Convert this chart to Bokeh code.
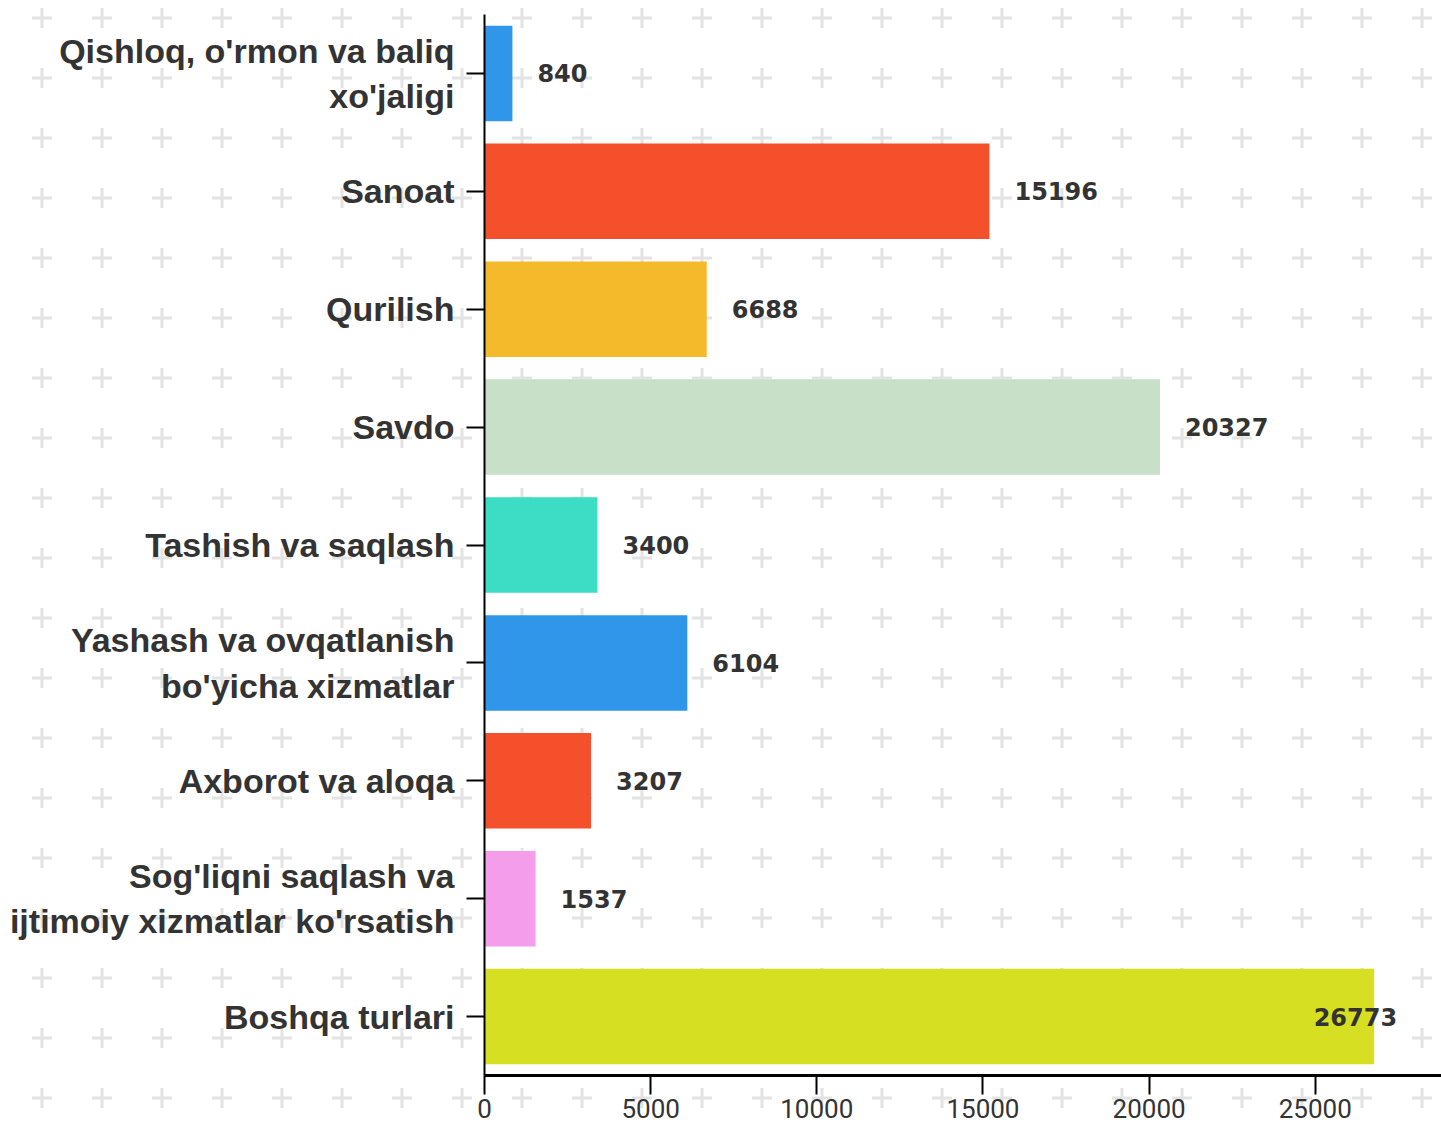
import urllib.parse
from bokeh.plotting import figure
from bokeh.models import ColumnDataSource, FactorRange, Range1d, FixedTicker
from bokeh.core.properties import value
from bokeh.embed import file_html
from bokeh.resources import INLINE

categories = [
    "Qishloq, o'rmon va baliq\nxo'jaligi",
    "Sanoat",
    "Qurilish",
    "Savdo",
    "Tashish va saqlash",
    "Yashash va ovqatlanish\nbo'yicha xizmatlar",
    "Axborot va aloqa",
    "Sog'liqni saqlash va\nijtimoiy xizmatlar ko'rsatish",
    "Boshqa turlari",
]
values = [840, 15196, 6688, 20327, 3400, 6104, 3207, 1537, 26773]
colors = ["#3096ea", "#f5502c", "#f5b92c", "#c8dfc8", "#3ddcc4",
          "#3096ea", "#f5502c", "#f49deb", "#d6df22"]
x_ticks = [0, 5000, 10000, 15000, 20000, 25000]
x_max = 28800

W, H = 1441, 1123
LEFT, TOP, BOTTOM = 484, 14, 48
frame_w = W - LEFT
px_per_unit = frame_w / x_max

# label placement: outside bar end, or pulled inside if it would overflow
label_w = 85
offsets, aligns = [], []
for v in values:
    end_px = v * px_per_unit
    if end_px + 25 + label_w > frame_w:
        offsets.append(23)
        aligns.append("right")
    else:
        offsets.append(25)
        aligns.append("left")

src = ColumnDataSource(dict(cat=categories, val=values, color=colors,
                            lab=[str(v) for v in values],
                            off=offsets, align=aligns))

p = figure(width=W, height=H, output_backend="svg", toolbar_location=None,
           y_range=FactorRange(*reversed(categories), range_padding=0),
           x_range=Range1d(0, x_max),
           min_border_left=LEFT, min_border_right=0,
           min_border_top=TOP, min_border_bottom=BOTTOM)

p.hbar(y="cat", right="val", left=0, height=0.81, color="color",
       line_color=None, source=src)
p.text(x="val", y="cat", text="lab", source=src, x_offset="off",
       text_align="align", text_baseline="middle",
       text_font=value("DejaVu Sans"), text_font_style="bold",
       text_font_size="24px", text_color="#333333")

p.background_fill_color = None
p.border_fill_color = None
p.outline_line_color = None
p.xgrid.visible = False
p.ygrid.visible = False

# y axis
ya = p.yaxis[0]
ya.axis_line_color = "black"
ya.axis_line_width = 2
ya.major_tick_line_color = "black"
ya.major_tick_line_width = 2
ya.major_tick_out = 18
ya.major_tick_in = 0
ya.minor_tick_line_color = None
ya.major_label_standoff = 12
ya.major_label_text_font = "Liberation Sans"
ya.major_label_text_font_style = "bold"
ya.major_label_text_font_size = "34px"
ya.major_label_text_color = "#333333"

# x axis
xa = p.xaxis[0]
xa.ticker = FixedTicker(ticks=x_ticks)
xa.axis_line_color = "black"
xa.axis_line_width = 3
xa.major_tick_line_color = "black"
xa.major_tick_line_width = 2
xa.major_tick_out = 19
xa.major_tick_in = 0
xa.minor_tick_line_color = None
xa.major_label_standoff = 4
xa.major_label_text_font = "Roboto"
xa.major_label_text_font_size = "26px"
xa.major_label_text_color = "#333333"

# decorative plus-sign background pattern
tile = ('<svg xmlns="http://www.w3.org/2000/svg" width="60" height="60">'
        '<path d="M20 30H40M30 20V40" stroke="#e3e3e3" stroke-width="3"/></svg>')
uri = "data:image/svg+xml," + urllib.parse.quote(tile)
p.styles = {
    "background-image": f'url("{uri}")',
    "background-repeat": "repeat",
    "background-position": "12px -12px",
}

open("out.html", "w").write(file_html(p, INLINE))
